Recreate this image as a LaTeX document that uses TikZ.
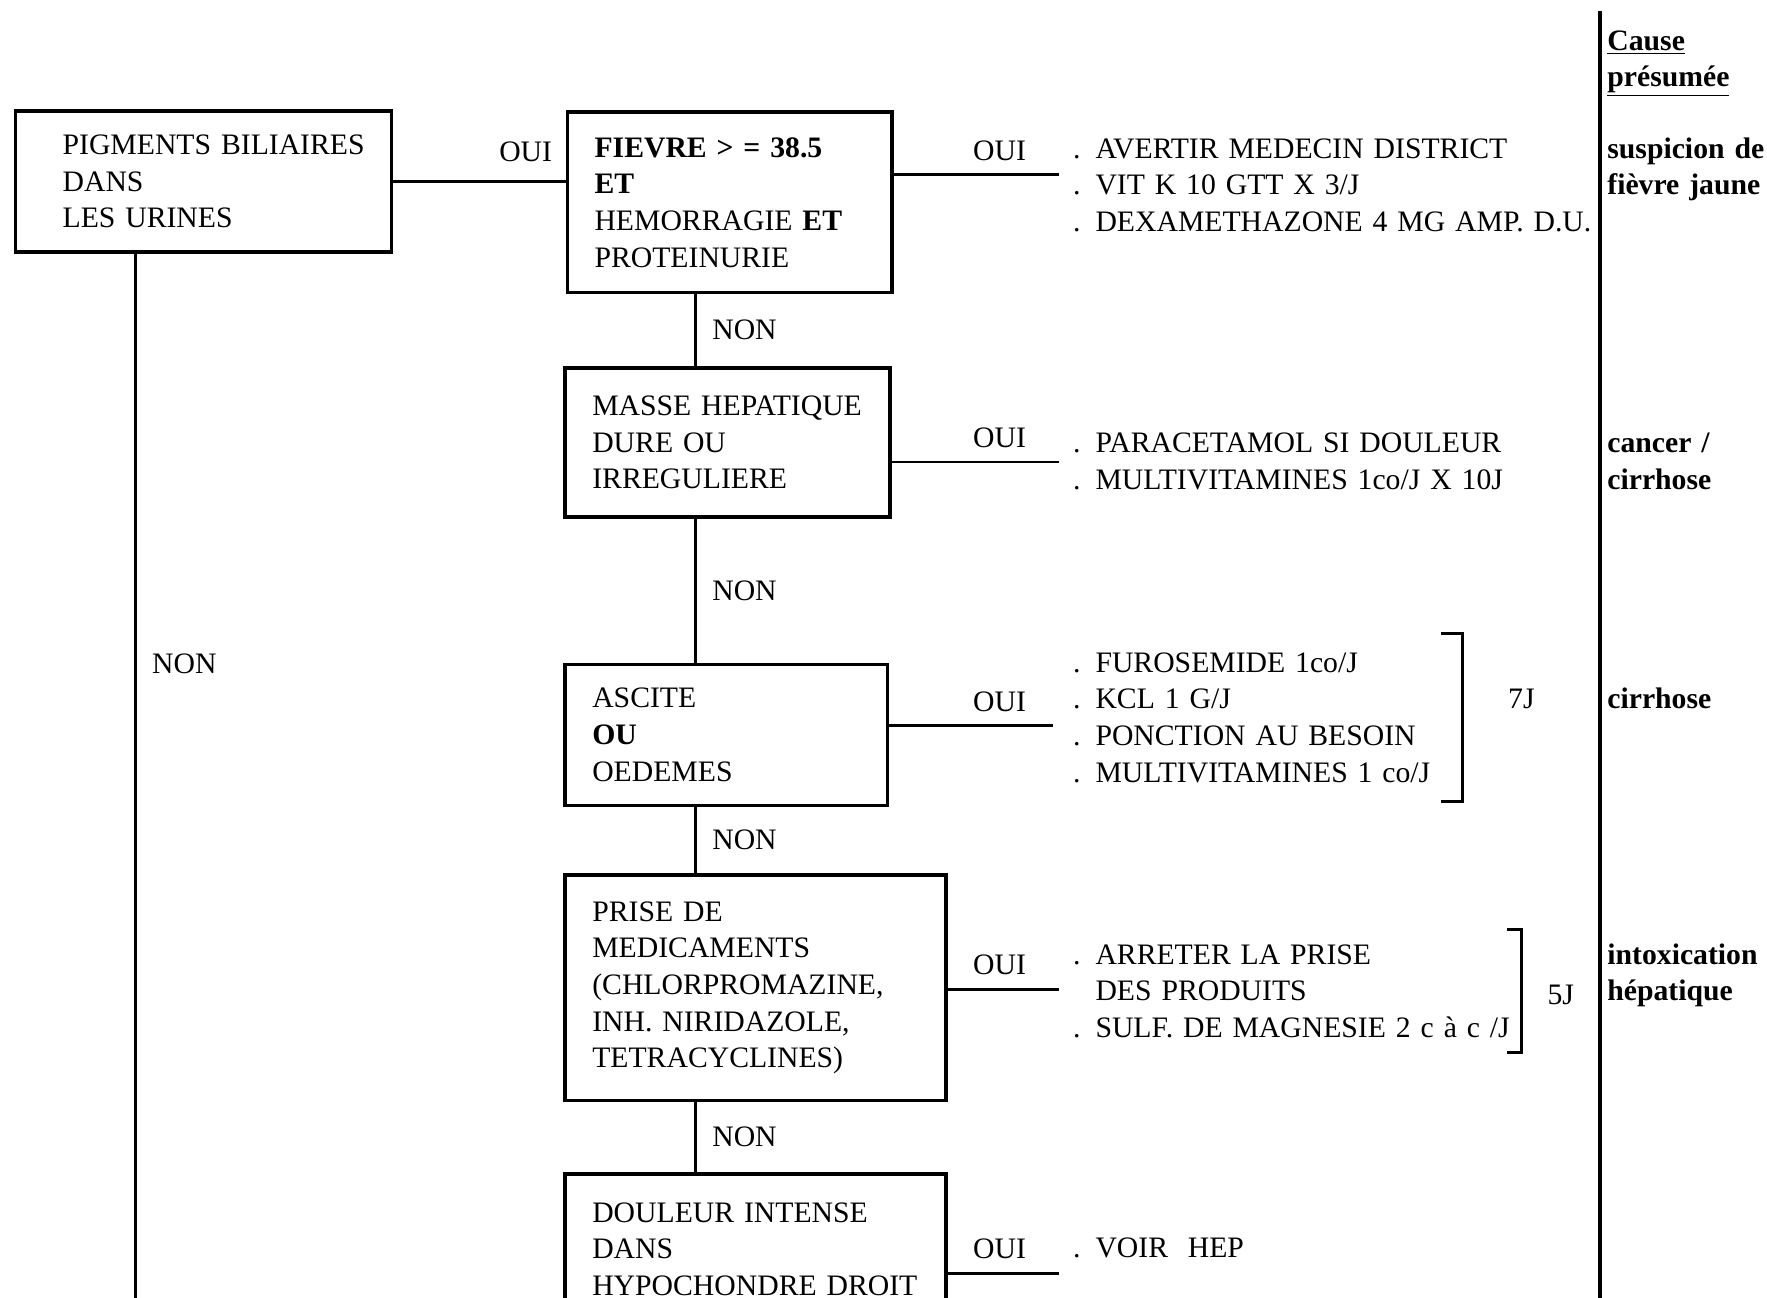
\documentclass[tikz,border=0pt]{standalone}
\usepackage{fontspec}
\setmainfont{Liberation Serif}
\usetikzlibrary{positioning}

\begin{document}
\begin{tikzpicture}[
				font=\fontsize{15pt}{18.5pt}\selectfont,
				test/.style={
					draw,
					rectangle,
					line width=1.8pt,
					anchor=north west,
					align=left,
					inner xsep=0pt,
					inner ysep=0pt,
					text width=#1,
					execute at begin node={\leftskip=0.48cm}
				},
				action/.style={anchor=base west,inner sep=0pt,text width=12cm,align=left},
				cause/.style={action,text width=3cm,font=\fontsize{15pt}{18.5pt}\selectfont\bfseries},
				link/.style={line width=1.4pt},
				oui/.style={pos=1,above left,xshift=-0.45cm,yshift=0.11cm},
				non/.style={right=0.16cm}
				]
				\useasboundingbox (0,0) rectangle (31.36,-23.02);
				\clip (0,0) rectangle (31.36,-23.02);

				\node[test=6.68cm,minimum height=2.5cm,execute at begin node={\leftskip=0.84cm}] (pigments) at (0.24,-1.94) {PIGMENTS BILIAIRES\\DANS\\LES URINES};
				\node[test=5.76cm,minimum height=3.2cm] (fievre) at (10.04,-1.96) {\textbf{FIEVRE > = 38.5}\\\textbf{ET}\\HEMORRAGIE \textbf{ET}\\PROTEINURIE};
				\node[test=5.76cm,minimum height=2.64cm] (masse) at (10,-6.5) {MASSE HEPATIQUE\\DURE OU\\IRREGULIERE};
				\node[test=5.72cm,minimum height=2.5cm] (ascite) at (10,-11.76) {ASCITE\\\textbf{OU}\\OEDEMES};
				\node[test=6.76cm,minimum height=4cm] (prise) at (10,-15.5) {PRISE DE\\MEDICAMENTS\\(CHLORPROMAZINE,\\INH. NIRIDAZOLE,\\TETRACYCLINES)};
				\node[test=6.76cm,minimum height=2.68cm] (douleur) at (10,-20.8) {DOULEUR INTENSE\\DANS\\HYPOCHONDRE DROIT};

				\node[action] (act fievre) at (19.04,-2.81) {. AVERTIR MEDECIN DISTRICT\\. VIT K 10 GTT X 3/J\\. DEXAMETHAZONE 4 MG AMP. D.U.};
				\node[action] (act masse) at (19.04,-8.03) {. PARACETAMOL SI DOULEUR\\. MULTIVITAMINES 1co/J X 10J};
				\node[action] (act ascite) at (19.04,-11.93) {. FUROSEMIDE 1co/J\\. KCL 1 G/J\\. PONCTION AU BESOIN\\. MULTIVITAMINES 1 co/J};
				\node[action] (act prise) at (19.04,-17.11) {. ARRETER LA PRISE\\\phantom{. }DES PRODUITS\\. SULF. DE MAGNESIE 2 c à c /J};
				\node[action] (act douleur) at (19.04,-22.31) {. VOIR~~HEP};

				\node (days7) at (27.0,-12.4) {7J};
				\node (days5) at (27.7,-17.66) {5J};

				\node[cause] (cause head) at (28.52,-0.89) {\underline{Cause}\\\underline{présumée}};
				\node[cause] (cause fievre) at (28.52,-2.81) {suspicion de\\fièvre jaune};
				\node[cause] (cause masse) at (28.52,-8.03) {cancer /\\cirrhose};
				\node[cause] (cause ascite) at (28.52,-12.57) {cirrhose};
				\node[cause] (cause prise) at (28.52,-17.11) {intoxication\\hépatique};

				\coordinate (spine) at (12.34,0);
				\coordinate (down) at (2.4,-23.5);
				\coordinate (rule top) at (28.4,-0.2);
				\coordinate (rule bottom) at (28.4,-23.5);
				\coordinate (end2) at (18.8,-3.1);
				\coordinate (end3) at (18.8,-8.2);
				\coordinate (end4) at (18.68,-12.88);
				\coordinate (end5) at (18.8,-17.56);
				\coordinate (end6) at (18.8,-22.6);

				\draw[link] (pigments.east) -- node[oui,xshift=0.35cm,yshift=0.1cm]{OUI} (pigments.east -| fievre.west);
				\draw[link] (fievre.east |- end2) -- node[oui]{OUI} (end2);
				\draw[link] (masse.east |- end3) -- node[oui]{OUI} (end3);
				\draw[link] (ascite.east |- end4) -- node[oui,xshift=0.12cm]{OUI} (end4);
				\draw[link] (prise.east |- end5) -- node[oui]{OUI} (end5);
				\draw[link] (douleur.east |- end6) -- node[oui]{OUI} (end6);

				\draw[link] (fievre.south -| spine) -- node[non]{NON} (masse.north -| spine);
				\draw[link] (masse.south -| spine) -- node[non]{NON} (ascite.north -| spine);
				\draw[link] (ascite.south -| spine) -- node[non]{NON} (prise.north -| spine);
				\draw[link] (prise.south -| spine) -- node[non]{NON} (douleur.north -| spine);
				\draw[link] (pigments.south -| down) -- node[non,pos=0.383]{NON} (down);

				\draw[line width=2pt] (rule top) -- (rule bottom);
				% brackets for the duration
				\draw[line width=1.6pt] (25.58,-11.24) -- (25.96,-11.24) -- (25.96,-14.22) -- (25.58,-14.22);
				\draw[line width=1.6pt] (26.74,-16.5) -- (27.0,-16.5) -- (27.0,-18.68) -- (26.74,-18.68);
			\end{tikzpicture}
\end{document}
